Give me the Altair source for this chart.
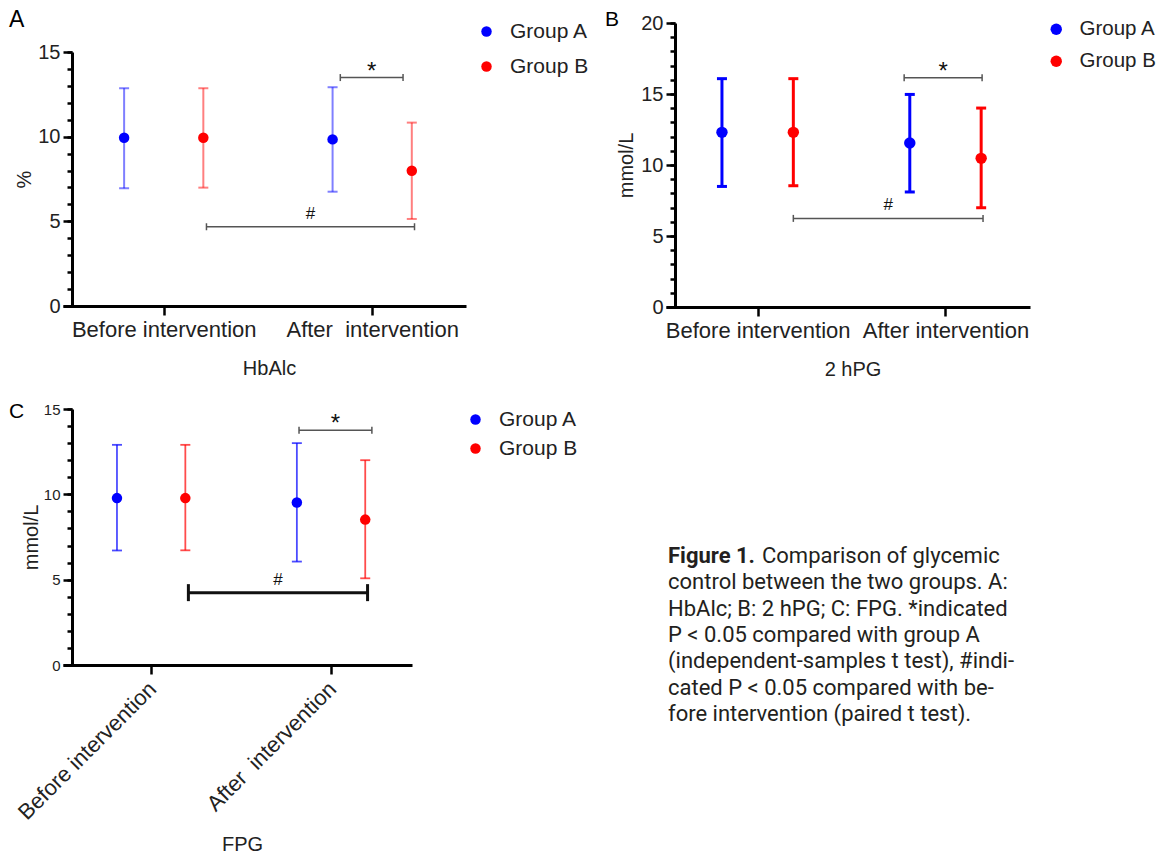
import altair as alt
import pandas as pd

# ---------------- data ----------------
periods = ["Before intervention", "After intervention"]
groups = ["Group A", "Group B"]
group_colors = ["#0000ff", "#ff0000"]

# Panel A: HbAlc (%)
hba_mean_a = [9.94, 9.84]
hba_mean_b = [9.94, 7.99]
hba_low_a = [6.95, 6.75]
hba_low_b = [6.99, 5.14]
hba_high_a = [12.86, 12.92]
hba_high_b = [12.86, 10.83]
hba_sig_label = ["*", "#"]
hba_sig_start = [0.847, 0.205]
hba_sig_end = [1.148, 1.203]
hba_sig_level = [13.49, 4.68]

# Panel B: 2 hPG (mmol/L)
hpg_mean_a = [12.30, 11.55]
hpg_mean_b = [12.30, 10.47]
hpg_low_a = [8.49, 8.10]
hpg_low_b = [8.54, 6.99]
hpg_high_a = [16.08, 14.97]
hpg_high_b = [16.08, 14.01]
hpg_sig_label = ["*", "#"]
hpg_sig_start = [0.78, 0.19]
hpg_sig_end = [1.195, 1.20]
hpg_sig_level = [16.15, 6.24]

# Panel C: FPG (mmol/L)
fpg_mean_a = [9.78, 9.52]
fpg_mean_b = [9.78, 8.52]
fpg_low_a = [6.71, 6.06]
fpg_low_b = [6.72, 5.08]
fpg_high_a = [12.90, 13.00]
fpg_high_b = [12.90, 12.00]
fpg_sig_label = ["*", "#"]
fpg_sig_start = [0.822, 0.207]
fpg_sig_end = [1.227, 1.203]
fpg_sig_level = [13.76, 4.24]

caption_head = "Figure 1."
caption_lines = [
    "Comparison of glycemic",
    "control between the two groups. A:",
    "HbAlc; B: 2 hPG; C: FPG. *indicated",
    "P < 0.05 compared with group A",
    "(independent-samples t test), #indi-",
    "cated P < 0.05 compared with be-",
    "fore intervention (paired t test).",
]

FONT = "Liberation Sans"
CAP_FONT = "Roboto"
TXT = "#222222"
W, H = 1159, 858
x_lo, x_hi = -0.44, 1.45
OVERHANG = 9  # x axis line starts slightly left of the y axis


def make_df(mean_a, mean_b, low_a, low_b, high_a, high_b):
    rows = []
    for g, m, lo, hi in [(groups[0], mean_a, low_a, high_a), (groups[1], mean_b, low_b, high_b)]:
        for i, p in enumerate(periods):
            rows.append(dict(period=p, t=i, group=g, mean=m[i], low=lo[i], high=hi[i]))
    return pd.DataFrame(rows)


def make_sig(labels, start, end, level):
    return pd.DataFrame(dict(label=labels, start=start, end=end, level=level))


def make_panel(df, sig_df, P):
    """Returns a flat list of layers; every layer carries identical explicit scales."""
    x0, x1 = P["xrange"]
    unit = (x_hi - x_lo) / (x1 - x0)
    xs = alt.Scale(domain=[x_lo - OVERHANG * unit, x_hi], range=[x0 - OVERHANG, x1], nice=False, zero=False)
    ys = alt.Scale(domain=[0, P["ymax"]], range=P["yrange"], nice=False, zero=False)
    cs = alt.Scale(domain=groups, range=group_colors)

    lab = P["xlabels"]
    x_axis = alt.Axis(
        orient="bottom", offset=P["yrange"][0] - H, values=[0, 1],
        labelExpr=f"datum.value < 0.5 ? '{lab[0]}' : '{lab[1]}'",
        tickSize=9, tickWidth=2.5, tickColor="black",
        domainColor="black", domainWidth=3,
        labelFont=FONT, labelFontSize=P["xlabsize"], labelColor=TXT,
        labelPadding=4, labelAngle=P["xangle"], labelAlign=P["xalign"],
        labelBaseline=P["xbaseline"], labelOffset=P["xlaboff"], labelLimit=400,
        labelFlush=False, labelOverlap=False, labelBound=False,
        title=P["xtitle"], titleFont=FONT, titleFontSize=20, titleFontWeight="normal",
        titleColor=TXT, titlePadding=P["xtitlepad"], titleX=(x0 + x1) / 2, grid=False,
    )
    y_axis = alt.Axis(
        orient="left", offset=-x0,
        values=list(range(0, P["ymax"] + 1, 5)),
        tickSize=9, tickWidth=2.5, tickColor="black",
        domainColor="black", domainWidth=3,
        labelFont=FONT, labelFontSize=P["ylabsize"], labelColor=TXT, labelPadding=3,
        labelFlush=False, labelOverlap=False, labelBound=False,
        title=P["ytitle"], titleFont=FONT, titleFontSize=20, titleFontWeight="normal",
        titleColor=TXT, titlePadding=P["ytitlepad"], grid=False,
    )
    minor_axis = alt.Axis(
        orient="left", offset=-x0,
        values=list(range(0, P["ymax"] + 1)),
        tickSize=5, tickWidth=2.5, tickColor="black",
        domain=False, labels=False, title=None, grid=False,
    )
    legend = alt.Legend(
        orient="none", legendX=P["legx"], legendY=P["legy"], title=None,
        labelFont=FONT, labelFontSize=P["legsize"], labelColor=TXT, labelOffset=13,
        symbolType="circle", symbolSize=P["dot"], symbolStrokeWidth=0,
        rowPadding=P["legrow"], padding=0, labelLimit=300,
    )

    base = alt.Chart(df).transform_calculate(
        pos="datum.t + (datum.group == 'Group A' ? -0.19 : 0.19)"
    )
    col_nl = alt.Color("group:N", scale=cs, legend=None)

    bars = base.mark_rule(strokeWidth=P["barw"], opacity=P["barop"]).encode(
        x=alt.X("pos:Q", scale=xs, axis=x_axis),
        y=alt.Y("low:Q", scale=ys, axis=y_axis),
        y2="high:Q",
        color=col_nl,
    )
    cap_lo = base.mark_tick(orient="horizontal", size=10, thickness=P["barw"], opacity=P["barop"]).encode(
        x=alt.X("pos:Q", scale=xs, axis=None),
        y=alt.Y("low:Q", scale=ys, axis=None),
        color=col_nl,
    )
    cap_hi = base.mark_tick(orient="horizontal", size=10, thickness=P["barw"], opacity=P["barop"]).encode(
        x=alt.X("pos:Q", scale=xs, axis=None),
        y=alt.Y("high:Q", scale=ys, axis=None),
        color=col_nl,
    )
    pts = base.mark_circle(size=P["dot"], opacity=1).encode(
        x=alt.X("pos:Q", scale=xs, axis=None),
        y=alt.Y("mean:Q", scale=ys, axis=None),
        color=alt.Color("group:N", scale=cs, legend=legend),
    )
    minor = alt.Chart(df).mark_point(opacity=0).encode(
        y=alt.Y("mean:Q", scale=ys, axis=minor_axis),
    )

    layers = [minor, bars, cap_lo, cap_hi]
    sig = alt.Chart(sig_df)
    for label, (color, width, capsize, fsize, dy) in P["sig_style"].items():
        s = sig.transform_filter(alt.datum.label == label)
        layers.append(s.mark_rule(color=color, strokeWidth=width).encode(
            x=alt.X("start:Q", scale=xs, axis=None), x2="end:Q",
            y=alt.Y("level:Q", scale=ys, axis=None),
        ))
        layers.append(s.transform_fold(["start", "end"], as_=["side", "xv"]).mark_tick(
            orient="vertical", size=capsize, thickness=width, color=color, opacity=1
        ).encode(
            x=alt.X("xv:Q", scale=xs, axis=None),
            y=alt.Y("level:Q", scale=ys, axis=None),
        ))
        layers.append(s.transform_calculate(mid="(datum.start + datum.end) / 2").mark_text(
            font=FONT, fontSize=fsize, color="#111111", baseline="alphabetic", dy=dy
        ).encode(
            x=alt.X("mid:Q", scale=xs, axis=None),
            y=alt.Y("level:Q", scale=ys, axis=None),
            text="label:N",
        ))
    layers.append(pts)
    return layers


thin = "#555555"
panel_a = make_panel(
    make_df(hba_mean_a, hba_mean_b, hba_low_a, hba_low_b, hba_high_a, hba_high_b),
    make_sig(hba_sig_label, hba_sig_start, hba_sig_end, hba_sig_level),
    dict(xrange=[72, 466], yrange=[306, 52], ymax=15,
         xlabels=["Before intervention", "After\u00a0 intervention"],
         xlabsize=22, ylabsize=20, xangle=0, xalign="center", xbaseline="top", xlaboff=0,
         xtitle="HbAlc", ytitle="%", xtitlepad=18, ytitlepad=3,
         legx=476, legy=21, legrow=13, legsize=21, dot=110, barw=2, barop=0.5,
         sig_style={"*": (thin, 1.5, 7, 24, 1), "#": (thin, 1.5, 7, 17, -8)}),
)
panel_b = make_panel(
    make_df(hpg_mean_a, hpg_mean_b, hpg_low_a, hpg_low_b, hpg_high_a, hpg_high_b),
    make_sig(hpg_sig_label, hpg_sig_start, hpg_sig_end, hpg_sig_level),
    dict(xrange=[675, 1030], yrange=[307, 23], ymax=20,
         xlabels=["Before intervention", "After intervention"],
         xlabsize=22, ylabsize=20, xangle=0, xalign="center", xbaseline="top", xlaboff=0,
         xtitle="2 hPG", ytitle="mmol/L", xtitlepad=18, ytitlepad=4,
         legx=1046, legy=19, legrow=11, legsize=20.5, dot=130, barw=3, barop=1.0,
         sig_style={"*": (thin, 1.5, 7, 24, 1), "#": (thin, 1.5, 7, 17, -8)}),
)
panel_c = make_panel(
    make_df(fpg_mean_a, fpg_mean_b, fpg_low_a, fpg_low_b, fpg_high_a, fpg_high_b),
    make_sig(fpg_sig_label, fpg_sig_start, fpg_sig_end, fpg_sig_level),
    dict(xrange=[72, 412], yrange=[665, 409], ymax=15,
         xlabels=["Before intervention", "After\u00a0 intervention"],
         xlabsize=22, ylabsize=15, xangle=315, xalign="right", xbaseline="top", xlaboff=-6,
         xtitle="FPG", ytitle="mmol/L", xtitlepad=11, ytitlepad=2,
         legx=465, legy=409, legrow=7, legsize=21, dot=110, barw=1.8, barop=0.7,
         sig_style={"*": (thin, 1.5, 7, 24, 1), "#": ("#111111", 3, 17, 17, -8)}),
)

# caption
CAP_SIZE = 22
cap_df = pd.DataFrame(dict(line=list(range(len(caption_lines))), text=caption_lines))
cap_scale = alt.Scale(domain=[0, len(caption_lines) - 1], range=[563, 721], nice=False, zero=False)
cap_base = alt.Chart(cap_df)
cap_head = cap_base.transform_filter(alt.datum.line == 0).mark_text(
    font=CAP_FONT, fontSize=CAP_SIZE, fontWeight="bold", color="#231f20", align="left", baseline="alphabetic"
).encode(x=alt.value(668), y=alt.Y("line:Q", scale=cap_scale, axis=None), text=alt.value(caption_head))
cap_first = cap_base.transform_filter(alt.datum.line == 0).mark_text(
    font=CAP_FONT, fontSize=CAP_SIZE, color="#231f20", align="left", baseline="alphabetic"
).encode(x=alt.value(762), y=alt.Y("line:Q", scale=cap_scale, axis=None), text="text:N")
cap_rest = cap_base.transform_filter(alt.datum.line > 0).mark_text(
    font=CAP_FONT, fontSize=CAP_SIZE, color="#231f20", align="left", baseline="alphabetic"
).encode(x=alt.value(668), y=alt.Y("line:Q", scale=cap_scale, axis=None), text="text:N")

# panel letters
one = alt.Data(values=[{"k": 1}])
letter_a = alt.Chart(one).mark_text(font=FONT, fontSize=23, align="left", baseline="alphabetic",
                                   color="black", x=9, y=27).encode(text=alt.value("A"))
letter_b = alt.Chart(one).mark_text(font=FONT, fontSize=21, align="left", baseline="alphabetic",
                                   color="black", x=605, y=26).encode(text=alt.value("B"))
letter_c = alt.Chart(one).mark_text(font=FONT, fontSize=21, align="left", baseline="alphabetic",
                                   color="black", x=9, y=418).encode(text=alt.value("C"))

chart = alt.layer(
    *panel_a, *panel_b, *panel_c, cap_head, cap_first, cap_rest, letter_a, letter_b, letter_c
).resolve_scale(
    x="independent", y="independent", color="independent"
).properties(
    width=W, height=H, padding=0, background="white",
    autosize=alt.AutoSizeParams(type="none"),
).configure_view(stroke=None)

chart.save("out.html", embed_options={"renderer": "svg", "actions": False})
